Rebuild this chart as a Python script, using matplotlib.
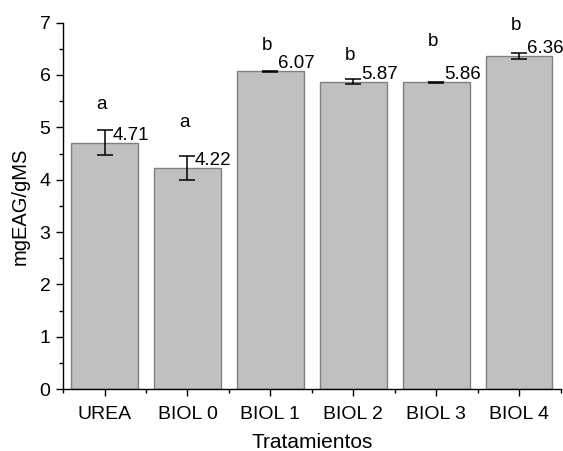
import matplotlib
matplotlib.use("Agg")
import matplotlib.pyplot as plt
from matplotlib.ticker import MultipleLocator, FixedLocator

plt.rcParams["font.family"] = ["Liberation Sans", "DejaVu Sans"]

#data
treatments = ["UREA", "BIOL 0", "BIOL 1", "BIOL 2", "BIOL 3", "BIOL 4"]
means = [4.71, 4.22, 6.07, 5.87, 5.86, 6.36]
errors = [0.23, 0.23, 0.01, 0.05, 0.01, 0.06]
letters = ["a", "a", "b", "b", "b", "b"]

#baseline height of the significance letters (layout, not data)
letter_y = [5.35, 5.00, 6.48, 6.29, 6.55, 6.85]

fig = plt.figure(figsize=(5.63, 4.51), dpi=100)
ax = fig.add_axes([0.112, 0.137, 0.884, 0.813])

x = list(range(len(treatments)))
ax.bar(x, means, width=0.8, color="#c0c0c0", edgecolor="#808080", linewidth=1.0, zorder=2)
ax.errorbar(x, means, yerr=errors, fmt="none", ecolor="black", elinewidth=1.1,
            capsize=5.5, capthick=1.1, zorder=3)

#value labels just right of the error bar
for i, m in enumerate(means):
    ax.annotate(f"{m:.2f}", (i, m), textcoords="offset points", xytext=(5.5, 2),
                ha="left", va="baseline", fontsize=13.5)

#letters above each bar
for i, (lab, ly) in enumerate(zip(letters, letter_y)):
    ax.text(i - 0.04, ly, lab, ha="center", va="baseline", fontsize=13.5)

ax.set_xlim(-0.5, 5.5)
ax.set_ylim(0, 7)
ax.set_xticks(x)
ax.set_xticklabels(treatments)
ax.xaxis.set_minor_locator(FixedLocator([i + 0.5 for i in range(-1, len(treatments))]))
ax.yaxis.set_major_locator(MultipleLocator(1))
ax.yaxis.set_minor_locator(MultipleLocator(0.5))

ax.tick_params(axis="both", which="major", direction="out", length=5, width=1, labelsize=14)
ax.tick_params(axis="x", which="major", pad=7)
ax.tick_params(axis="y", which="major", pad=4)
ax.tick_params(axis="both", which="minor", direction="out", length=3, width=1)

for side in ["top", "right"]:
    ax.spines[side].set_visible(False)
for side in ["left", "bottom"]:
    ax.spines[side].set_linewidth(1.0)

ax.set_xlabel("Tratamientos", fontsize=15, labelpad=7)
ax.set_ylabel("mgEAG/gMS", fontsize=14.5, labelpad=7)

fig.savefig("out.png", dpi=100)
